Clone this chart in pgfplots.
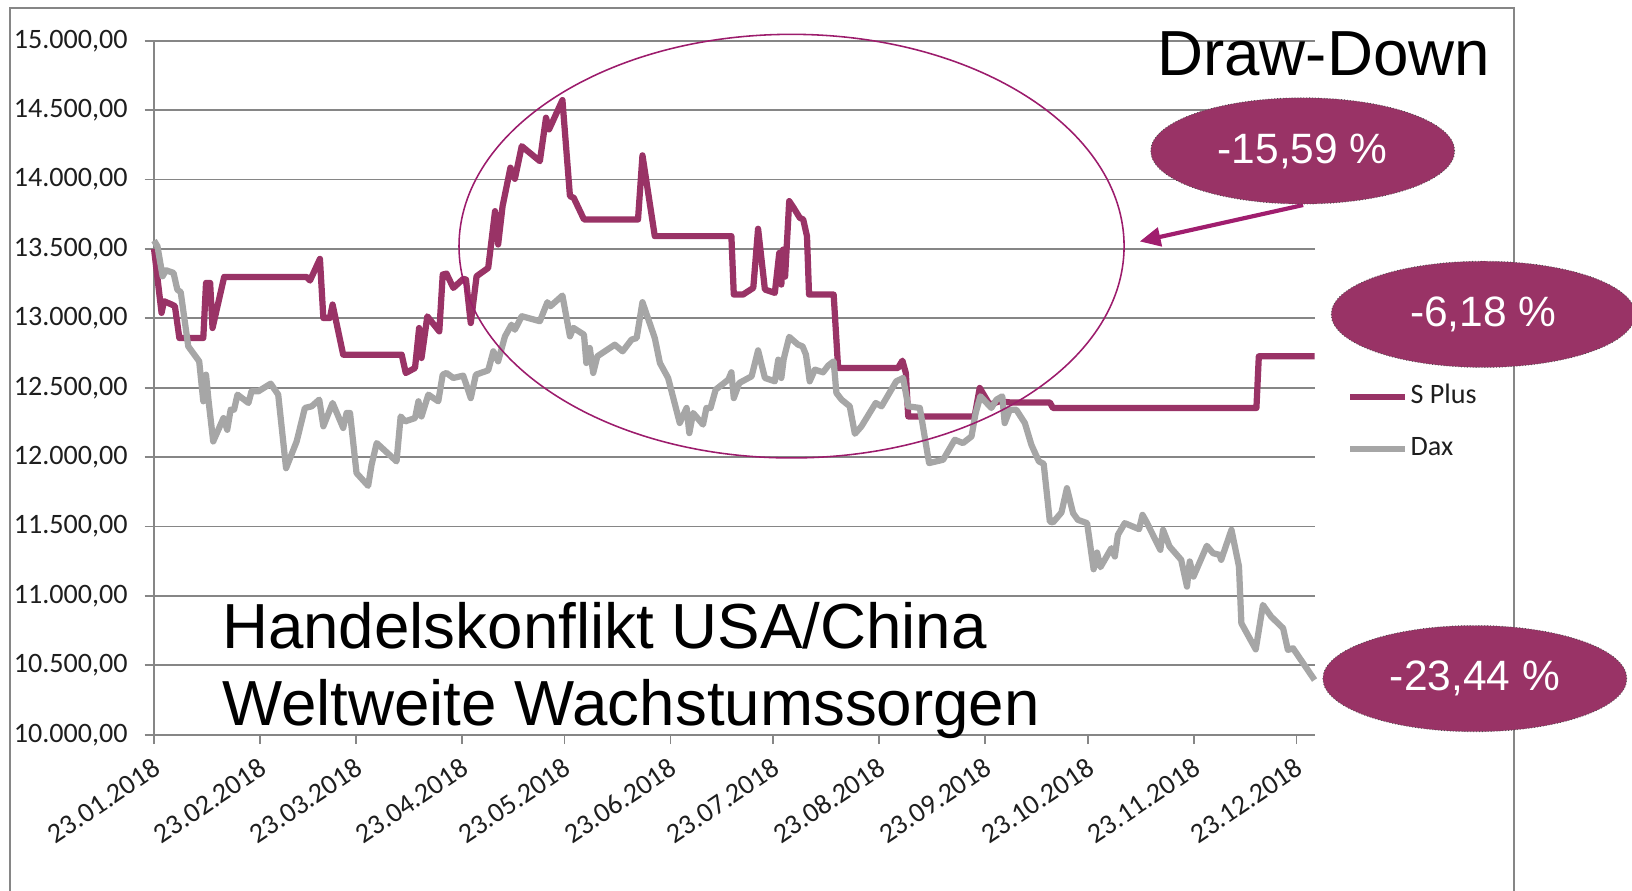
\documentclass[border=0pt]{standalone}
\usepackage{fontspec}
\setmainfont{Carlito}
\newfontfamily\arial{Liberation Sans}
\usepackage{pgfplots}
\pgfplotsset{compat=1.18}
\usetikzlibrary{arrows.meta}
\definecolor{splus}{RGB}{153,51,102}
\definecolor{daxgray}{RGB}{166,166,166}
\definecolor{gridgray}{RGB}{134,134,134}
\definecolor{ringcol}{RGB}{156,28,108}
\definecolor{arrowcol}{RGB}{160,30,110}
\definecolor{txt}{RGB}{30,30,30}
\begin{document}
\begin{tikzpicture}
\useasboundingbox (0,0) rectangle (784pt,428pt);
\clip (0,0) rectangle (784pt,428pt);
% outer frame
\draw[gridgray, line width=1pt] (5pt,-5pt) -- (5pt,424pt) -- (727.5pt,424pt) -- (727.5pt,-5pt);
\begin{axis}[
  at={(74pt,75.05pt)}, anchor=south west,
  scale only axis, width=557.5pt, height=333.4pt,
  xmin=0, xmax=339.3, ymin=10000, ymax=15000,
  scaled y ticks=false, scaled x ticks=false,
  axis x line*=bottom, axis y line*=left,
  axis line style={draw=gridgray, line width=0.9pt, -},
  ymajorgrids, major grid style={draw=gridgray, line width=0.9pt},
  tick style={draw=gridgray, line width=0.9pt},
  tick align=outside, major tick length=4.5pt,
  ytick={10000,10500,11000,11500,12000,12500,13000,13500,14000,14500,15000},
  yticklabels={{10.000,00},{10.500,00},{11.000,00},{11.500,00},{12.000,00},{12.500,00},{13.000,00},{13.500,00},{14.000,00},{14.500,00},{15.000,00}},
  yticklabel style={font=\fontsize{13.5}{14}\selectfont, text=txt, anchor=east, inner sep=0pt, xshift=-8pt},
  xtick={0,31,59,90,120,151,181,212,243,273,304,334},
  xticklabels={23.01.2018,23.02.2018,23.03.2018,23.04.2018,23.05.2018,23.06.2018,23.07.2018,23.08.2018,23.09.2018,23.10.2018,23.11.2018,23.12.2018},
  xticklabel style={font=\fontsize{13.5}{14}\selectfont, text=txt, inner sep=0pt, xshift=1.5pt, yshift=-10pt, rotate=34, anchor=east},
  legend style={draw=none, fill=none, inner sep=0pt, outer sep=0pt,
    at={(rel axis cs:1.028,0.449)}, anchor=west,
    font=\fontsize{13.5}{14}\selectfont, text=txt,
    row sep=12.5pt, nodes={inner sep=0pt, text height=9.5pt, text depth=3pt}},
  legend cell align=left,
  legend image code/.code={\draw[#1] (0pt,0pt) -- (26.5pt,0pt);},
  /tikz/every odd column/.append style={column sep=1pt},
  clip=false,
]
\addplot[splus, line width=3pt, line join=round] table {
x y
0 13500
2.2 13039
2.9 13123
5.2 13099
6.1 13087
7.4 12858
14.4 12858
15.2 13255
16.4 13255
17.1 12930
20.5 13298
44.6 13298
45.6 13272
48.5 13428
49.5 13002
51.4 13002
52.2 13099
55.3 12738
72.4 12738
73.6 12606
76.3 12642
77.5 12930
78.2 12714
79.9 13014
83.4 12906
84.4 13315
85.5 13322
87.5 13219
90.4 13284
91.2 13279
92.6 12966
94.3 13303
97.7 13363
99.7 13772
100.6 13532
101.9 13808
104.2 14085
105.5 14005
107.5 14240
112.8 14132
114.6 14445
115.5 14361
119.4 14572
121.6 13880
122.7 13868
125.7 13712
141.5 13712
142.8 14174
146.4 13592
168.8 13592
169.5 13171
172.2 13171
175.2 13219
176.6 13645
178.6 13207
181.5 13183
182.8 13471
183.4 13243
183.9 13495
184.5 13300
185.7 13844
187.0 13796
188.8 13724
189.8 13712
190.9 13591
191.5 13171
198.7 13171
200.0 12642
217.5 12642
218.8 12695
219.8 12606
220.5 12293
239.9 12293
241.4 12498
244.3 12378
247.2 12402
250.2 12394
261.9 12394
262.8 12354
322.3 12354
323.0 12726
339.3 12726
};
\addlegendentry{S Plus}
\addplot[daxgray, line width=3pt, line join=round] table {
x y
0 13560
1.0 13519
2.5 13303
3.5 13346
5.7 13327
6.8 13207
7.8 13188
10.0 12798
13.2 12690
14.4 12402
15.2 12594
15.9 12414
17.3 12113
20.3 12281
21.4 12197
22.4 12342
23.4 12342
24.4 12450
27.6 12390
28.5 12474
30.5 12474
34.1 12529
36.3 12450
38.6 11920
41.7 12113
44.1 12354
46.1 12366
48.3 12414
49.5 12222
52.2 12390
55.3 12210
56.3 12318
57.3 12318
59.2 11885
62.6 11793
63.6 11945
65.1 12101
70.9 11969
72.1 12293
73.4 12257
76.3 12281
77.3 12402
78.2 12293
80.2 12450
83.1 12402
84.4 12594
85.5 12606
87.5 12570
90.4 12587
92.6 12425
94.1 12594
97.7 12625
99.2 12762
100.6 12690
102.6 12870
104.5 12954
105.5 12918
107.5 13015
112.8 12979
115.0 13116
115.9 13087
119.4 13164
121.6 12870
122.6 12931
125.7 12882
126.4 12678
127.4 12786
128.4 12606
129.6 12726
134.7 12810
137.0 12762
139.6 12846
141.1 12858
142.8 13116
146.4 12858
147.9 12678
150.3 12570
153.7 12246
155.7 12354
156.5 12173
157.6 12318
160.5 12234
161.5 12354
162.7 12354
164.2 12486
167.9 12558
168.8 12611
169.5 12425
171.1 12534
174.7 12582
176.6 12769
178.6 12570
181.5 12546
182.5 12702
183.4 12570
184.1 12707
185.7 12866
188.3 12810
189.6 12798
190.6 12738
191.7 12546
193.2 12630
195.6 12611
197.1 12659
198.7 12690
199.5 12462
201.0 12414
203.4 12366
204.9 12168
206.8 12221
211.0 12390
212.7 12366
217.0 12546
219.0 12570
220.5 12366
223.9 12354
226.6 11957
230.7 11981
234.1 12125
236.5 12101
239.0 12149
240.2 12317
241.6 12438
244.8 12354
246.3 12414
248.0 12438
248.7 12245
250.2 12341
252.1 12341
254.6 12245
256.5 12089
258.7 11969
260.1 11952
261.9 11536
262.8 11529
265.3 11601
266.9 11776
268.7 11596
270.1 11548
272.8 11524
274.7 11192
275.7 11312
276.7 11207
279.9 11344
280.9 11284
281.8 11440
283.8 11524
288.0 11481
289.0 11584
290.1 11536
293.0 11392
294.2 11332
295.0 11476
296.9 11356
300.3 11260
302.0 11067
302.8 11248
303.9 11139
307.8 11361
309.6 11308
311.5 11296
312.0 11260
315.0 11476
317.2 11212
317.9 10803
322.1 10615
324.2 10935
326.6 10851
330.1 10767
331.5 10611
333.0 10623
339.3 10394
};
\addlegendentry{Dax}
\end{axis}
% annotations
\draw[ringcol, line width=0.75pt] (380.25pt,309.75pt) ellipse [x radius=159.75pt, y radius=101.75pt];
\draw[arrowcol, line width=2pt, -{Triangle[length=10pt,width=9pt]}] (626pt,329.5pt) -- (547.5pt,312pt);
\node[anchor=base east, inner sep=0pt, font=\arial\fontsize{30.6}{32}\selectfont] at (716pt,391.5pt) {Draw-Down};
\node[anchor=base west, inner sep=0pt, font=\arial\fontsize{30.6}{32}\selectfont] at (106.5pt,116.5pt) {Handelskonflikt USA/China};
\node[anchor=base west, inner sep=0pt, font=\arial\fontsize{30.6}{32}\selectfont] at (106.5pt,79.7pt) {Weltweite Wachstumssorgen};
\foreach \cx/\cy/\lab in {625.8/355.5/{-15,59 \%}, 712.5/277/{-6,18 \%}, 708.5/102/{-23,44 \%}}{
  \draw[fill=splus, draw=black!70, densely dotted, line width=0.4pt] (\cx pt,\cy pt) ellipse [x radius=73pt, y radius=25.5pt];
  \node[text=white, font=\arial\fontsize{20.4}{22}\selectfont] at (\cx pt,\cy pt) {\lab};
}
\end{tikzpicture}
\end{document}
